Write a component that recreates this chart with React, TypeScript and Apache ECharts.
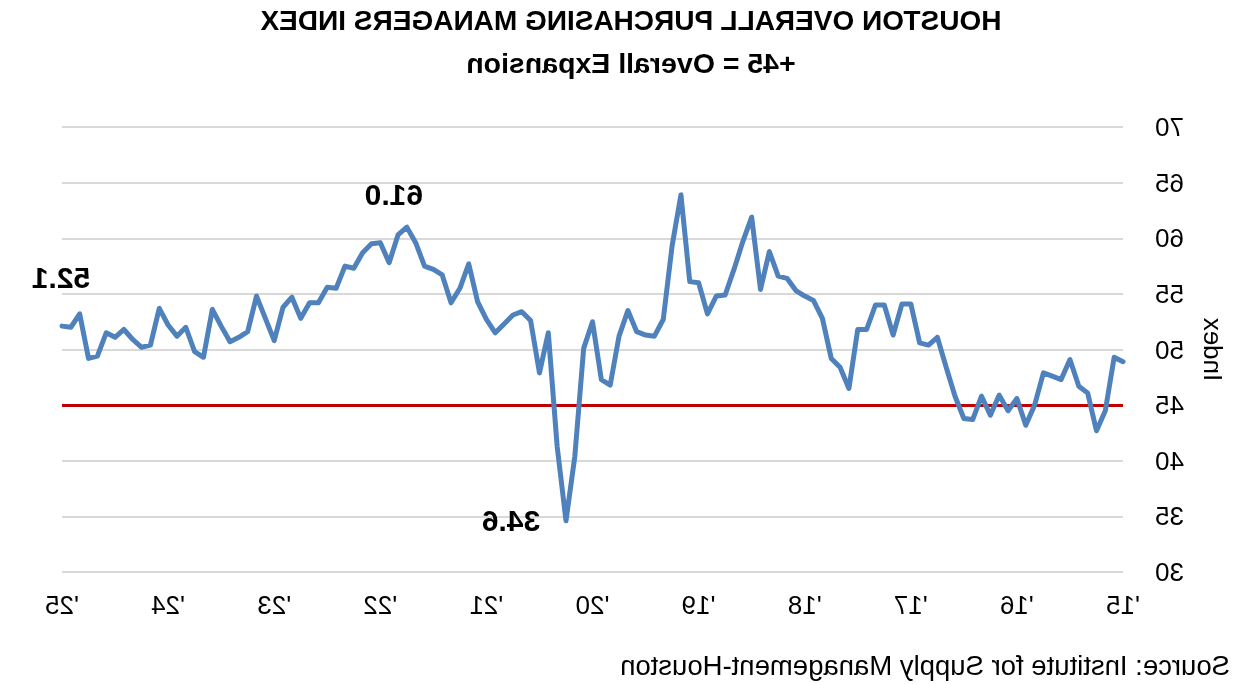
import React, { useEffect, useRef } from "react";
import * as echarts from "echarts";

const yearLabels: string[] = ["'15", "'16", "'17", "'18", "'19", "'20", "'21", "'22", "'23", "'24", "'25"];
const monthNames: string[] = ["Jan", "Feb", "Mar", "Apr", "May", "Jun", "Jul", "Aug", "Sep", "Oct", "Nov", "Dec"];

const pmiValues: number[] = [
  48.9, 49.3, 44.5, 42.7, 46.1, 46.7, 49.1, 47.3, 47.6, 47.9, 45.0, 43.2,
  45.6, 44.5, 45.9, 44.1, 45.8, 43.7, 43.8, 45.8, 48.4, 51.1, 50.4, 50.6,
  54.1, 54.1, 51.3, 54.0, 54.0, 51.8, 51.8, 46.5, 48.4, 49.2, 52.8, 54.4,
  54.8, 55.3, 56.4, 56.6, 58.8, 55.4, 61.9, 59.7, 57.2, 54.9, 54.8, 53.2,
  56.0, 56.1, 63.9, 59.3, 52.7, 51.2, 51.3, 51.6, 53.5, 51.2, 46.8, 47.3,
  52.5, 50.1, 40.4, 34.6, 41.3, 51.5, 47.9, 52.6, 53.4, 53.1, 52.3, 51.5,
  52.7, 54.3, 57.7, 55.5, 54.2, 56.7, 57.2, 57.5, 59.6, 61.0, 60.3, 57.8,
  59.6, 59.5, 58.7, 57.3, 57.5, 55.5, 55.6, 54.2, 54.2, 52.8, 54.7, 53.8,
  50.8, 52.8, 54.8, 51.6, 51.1, 50.7, 52.1, 53.6, 49.3, 49.8, 52.0, 51.2,
  52.2, 53.7, 50.4, 50.2, 50.9, 51.8, 51.1, 51.5, 49.4, 49.2, 53.2, 52.0,
  52.1,
];

// categories: one per month, Jan 2015 onward
const categories: string[] = pmiValues.map(
  (_, i) => `${monthNames[i % 12]} ${2015 + Math.floor(i / 12)}`
);

const expansionLevel = 45;
const annotatedIndices: number[] = [81, 63, 120];

const FONT = "'Liberation Sans', Arial, sans-serif";

export default function App() {
  const ref = useRef<HTMLDivElement>(null);

  useEffect(() => {
    if (!ref.current) return;
    const chart = echarts.init(ref.current, undefined, { renderer: "svg" });

    const labelOffsets: Record<number, [number, number]> = {
      81: [13, -33],
      63: [55, 0],
      120: [1, -49],
    };

    const option: echarts.EChartsOption = {
      animation: false,
      backgroundColor: "#ffffff",
      textStyle: { fontFamily: FONT },
      grid: { left: 120, right: 62, top: 127, bottom: 112, containLabel: false },
      graphic: [
        {
          type: "text",
          x: 612,
          y: 6,
          style: {
            text: "HOUSTON OVERALL PURCHASING MANAGERS INDEX",
            fontFamily: FONT,
            fontSize: 28,
            fontWeight: "bold",
            fill: "#000",
            textAlign: "center",
            textVerticalAlign: "top",
          },
        },
        {
          type: "text",
          x: 612,
          y: 48,
          style: {
            text: "+45 = Overall Expansion",
            fontFamily: FONT,
            fontSize: 28.5,
            fontWeight: "bold",
            fill: "#000",
            textAlign: "center",
            textVerticalAlign: "top",
          },
        },
        {
          type: "text",
          x: 13,
          y: 651,
          style: {
            text: "Source: Institute for Supply Management-Houston",
            fontFamily: FONT,
            fontSize: 27.5,
            fill: "#000",
            textAlign: "left",
            textVerticalAlign: "top",
          },
        },
      ],
      xAxis: {
        type: "category",
        data: categories,
        boundaryGap: false,
        axisLine: { show: false },
        axisTick: { show: false },
        splitLine: { show: false },
        axisLabel: {
          interval: 11,
          margin: 20,
          fontSize: 26,
          color: "#000",
          fontFamily: FONT,
          formatter: (_v: string, idx: number) => (idx % 12 === 0 ? yearLabels[idx / 12] : ""),
        },
      },
      yAxis: {
        type: "value",
        min: 30,
        max: 70,
        interval: 5,
        name: "Index",
        nameLocation: "middle",
        nameGap: 77,
        nameTextStyle: { fontSize: 26, color: "#000", fontFamily: FONT },
        axisLine: { show: false },
        axisTick: { show: false },
        axisLabel: { fontSize: 26, color: "#000", margin: 32, fontFamily: FONT },
        splitLine: { lineStyle: { color: "#d9d9d9", width: 2 } },
      },
      series: [
        {
          type: "line",
          data: pmiValues,
          symbol: "none",
          smooth: false,
          lineStyle: { color: "#4f81bd", width: 5, join: "round", cap: "round" },
          itemStyle: { color: "#4f81bd" },
          z: 3,
          markLine: {
            silent: true,
            symbol: "none",
            label: { show: false },
            lineStyle: { color: "#c00000", width: 3, type: "solid" },
            data: [{ yAxis: expansionLevel }],
            z: 2,
          },
          markPoint: {
            silent: true,
            symbol: "circle",
            symbolSize: 0,
            data: annotatedIndices.map((i) => ({
              coord: [categories[i], pmiValues[i]],
              value: pmiValues[i],
              label: {
                show: true,
                position: "inside",
                offset: labelOffsets[i],
                formatter: pmiValues[i].toFixed(1),
                fontSize: 30,
                fontWeight: "bold",
                color: "#000",
                fontFamily: FONT,
              },
            })),
          },
        },
      ],
    };

    chart.setOption(option);
    return () => chart.dispose();
  }, []);

  return (
    <div
      ref={ref}
      style={{
        position: "fixed",
        left: 0,
        top: 0,
        width: 1243,
        height: 684,
        background: "#fff",
        transform: "scaleX(-1)",
      }}
    />
  );
}
